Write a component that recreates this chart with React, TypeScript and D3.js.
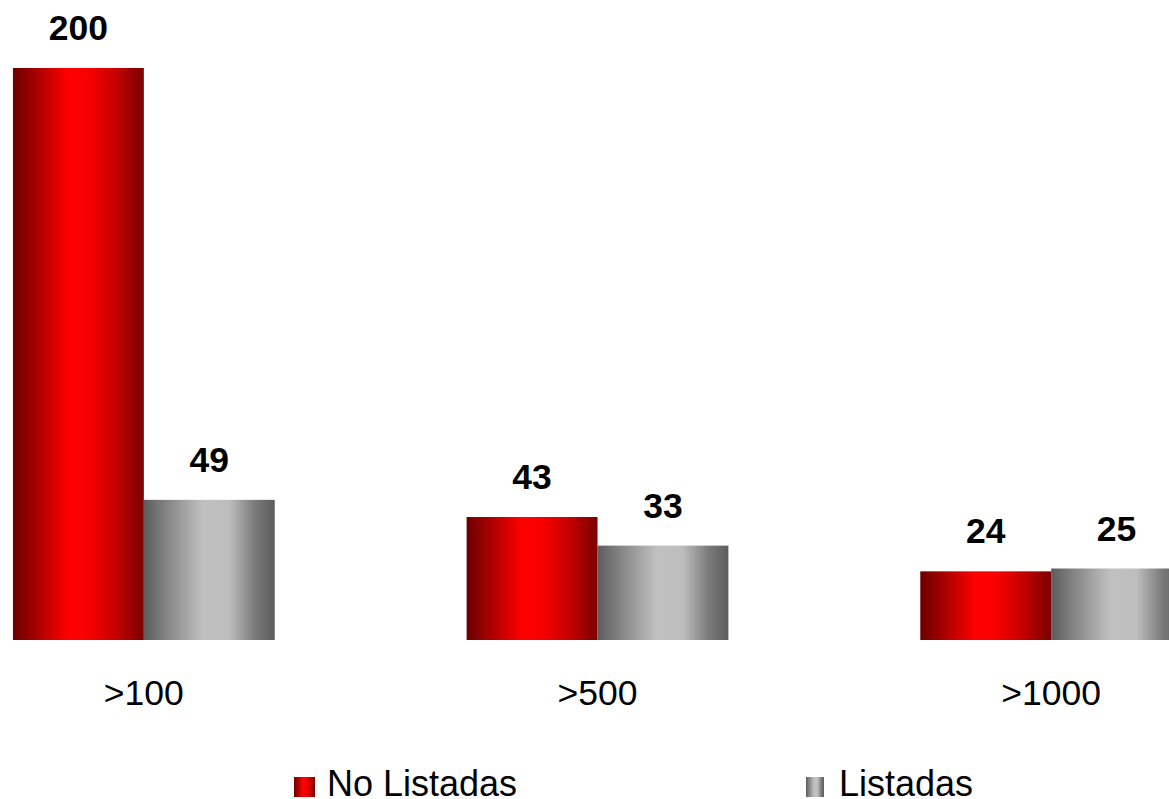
import React from "react";
import * as d3 from "d3";

const categories = [">100", ">500", ">1000"];
const seriesNames = ["No Listadas", "Listadas"];
const noListadas = [200, 43, 24];
const listadas = [49, 33, 25];

const W = 1169;
const H = 799;

export default function App() {
  const x0 = d3.scaleBand<string>().domain(categories).range([-83, 1278]).paddingInner(0).paddingOuter(0);
  const x1 = d3.scaleBand<string>().domain(seriesNames).range([0, x0.bandwidth()]).paddingInner(0).paddingOuter(0.733);
  const y = d3.scaleLinear().domain([0, 200]).range([640, 68]);
  const seriesValues = [noListadas, listadas];
  const fills = ["url(#gradRed)", "url(#gradGray)"];
  const font = "'Liberation Sans', Arial, sans-serif";

  return (
    <svg width={W} height={H} style={{ position: "absolute", left: 0, top: 0, background: "#fff" }} fontFamily={font}>
      <defs>
        <linearGradient id="gradRed" x1="0" x2="1" y1="0" y2="0">
          <stop offset="0%" stopColor="#6c0000" />
          <stop offset="20%" stopColor="#b00000" />
          <stop offset="42%" stopColor="#ff0000" />
          <stop offset="58%" stopColor="#f80000" />
          <stop offset="80%" stopColor="#c00000" />
          <stop offset="100%" stopColor="#7a0000" />
        </linearGradient>
        <linearGradient id="gradGray" x1="0" x2="1" y1="0" y2="0">
          <stop offset="0%" stopColor="#5c5c5c" />
          <stop offset="20%" stopColor="#8a8a8a" />
          <stop offset="45%" stopColor="#c0c0c0" />
          <stop offset="65%" stopColor="#bebebe" />
          <stop offset="85%" stopColor="#7a7a7a" />
          <stop offset="100%" stopColor="#5c5c5c" />
        </linearGradient>
      </defs>
      {categories.map((c, ci) => (
        <g key={c} transform={`translate(${x0(c)},0)`}>
          {seriesNames.map((s, si) => {
            const v = seriesValues[si][ci];
            const bx = x1(s)!;
            const bw = x1.bandwidth();
            return (
              <g key={s}>
                <rect x={bx} y={y(v)} width={bw} height={y(0) - y(v)} fill={fills[si]} />
                <text x={bx + bw / 2} y={y(v) - 28} textAnchor="middle" fontSize={35.5} fontWeight="bold" fill="#000">
                  {v}
                </text>
              </g>
            );
          })}
          <text x={x0.bandwidth() / 2} y={705} textAnchor="middle" fontSize={35.5} fill="#000">
            {c}
          </text>
        </g>
      ))}
      <g>
        <rect x={294} y={777} width={21} height={20} fill="url(#gradRed)" />
        <text x={327} y={796} fontSize={36} fill="#000">{seriesNames[0]}</text>
        <rect x={806} y={777} width={18} height={20} fill="url(#gradGray)" />
        <text x={839} y={796} fontSize={36} fill="#000">{seriesNames[1]}</text>
      </g>
    </svg>
  );
}
